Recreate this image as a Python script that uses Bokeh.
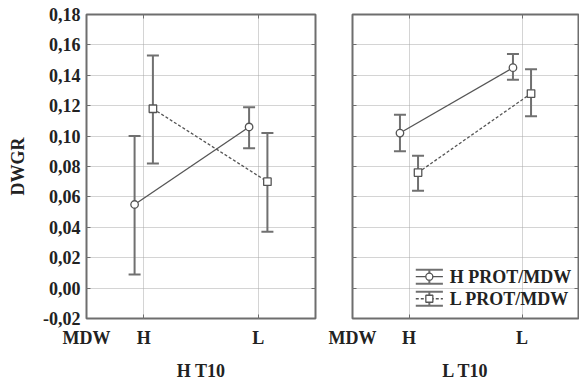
from bokeh.plotting import figure
from bokeh.models import (Range1d, FixedTicker, LinearAxis, Whisker, TeeHead,
                          ColumnDataSource)
from bokeh.layouts import row
from bokeh.embed import file_html
from bokeh.resources import INLINE
from bokeh.core.properties import value

# ---------------- data ----------------
categories = ["H", "L"]
cat_pos = [1, 2]
x_tick_positions = [0.5, 1, 2]
x_tick_labels = ["MDW", "H", "L"]
y_ticks = [-0.02, 0.0, 0.02, 0.04, 0.06, 0.08, 0.10, 0.12, 0.14, 0.16, 0.18]
y_tick_labels = ["-0,02", "0,00", "0,02", "0,04", "0,06", "0,08", "0,10",
                 "0,12", "0,14", "0,16", "0,18"]
panel_titles = ["H T10", "L T10"]
series_names = ["H PROT/MDW", "L PROT/MDW"]
y_title = "DWGR"

# panel "H T10"
ht10_hprot_mean = [0.055, 0.106]
ht10_hprot_low = [0.009, 0.092]
ht10_hprot_high = [0.100, 0.119]
ht10_lprot_mean = [0.118, 0.070]
ht10_lprot_low = [0.082, 0.037]
ht10_lprot_high = [0.153, 0.102]

# panel "L T10"
lt10_hprot_mean = [0.102, 0.145]
lt10_hprot_low = [0.090, 0.137]
lt10_hprot_high = [0.114, 0.154]
lt10_lprot_mean = [0.076, 0.128]
lt10_lprot_low = [0.064, 0.113]
lt10_lprot_high = [0.087, 0.144]

# ---------------- styles ----------------
FONT = "Liberation Serif"
TICK_SIZE = "18px"
LABEL_SIZE = "18px"
LEGEND_SIZE = "18px"
FRAME_COLOR = "#6e6e6e"
LINE_COLOR = "#555555"
ERR_COLOR = "#707070"
GRID_COLOR = "#a8a8a8"
TEXT_COLOR = "#222222"
OFFSETS = [-0.08, 0.08]
MARKERS = ["circle", "square"]
DASHES = ["solid", "3 2"]


def style_axis(ax, show_labels):
    ax.axis_line_color = None
    ax.major_tick_in = 4
    ax.major_tick_out = 0
    ax.minor_tick_line_color = None
    ax.major_tick_line_color = FRAME_COLOR
    ax.major_tick_line_width = 1
    ax.major_label_text_font = FONT
    ax.major_label_text_font_style = "bold"
    ax.major_label_text_color = TEXT_COLOR
    ax.major_label_text_font_size = TICK_SIZE
    if not show_labels:
        ax.major_label_overrides = {t: "" for t in ax.ticker.ticks}
        ax.major_label_standoff = 0


def make_panel(title, series, left_labels, legend, mb_left, fw, mb_right):
    p = figure(output_backend="svg", toolbar_location=None,
               frame_width=fw, frame_height=304,
               min_border_left=mb_left, min_border_right=mb_right,
               min_border_top=14, min_border_bottom=62,
               x_range=Range1d(0.5, 2.5), y_range=Range1d(-0.02, 0.18),
               x_axis_location=None, y_axis_location=None)
    p.background_fill_color = "white"
    p.border_fill_color = "white"
    p.outline_line_color = FRAME_COLOR
    p.outline_line_width = 2

    # axes
    xb = LinearAxis(ticker=FixedTicker(ticks=x_tick_positions),
                    major_label_overrides={t: l for t, l in zip(x_tick_positions, x_tick_labels)})
    style_axis(xb, True)
    xb.major_label_standoff = 9
    xb.axis_label = title
    xb.axis_label_text_font = FONT
    xb.axis_label_text_font_style = "bold"
    xb.axis_label_text_font_size = LABEL_SIZE
    xb.axis_label_text_color = TEXT_COLOR
    xb.axis_label_standoff = 10
    p.add_layout(xb, "below")

    xt = LinearAxis(ticker=FixedTicker(ticks=cat_pos))
    style_axis(xt, False)
    p.add_layout(xt, "above")

    if left_labels:
        yl = LinearAxis(ticker=FixedTicker(ticks=y_ticks),
                        major_label_overrides={t: l for t, l in zip(y_ticks, y_tick_labels)})
        style_axis(yl, True)
        yl.major_label_standoff = 6
        yl.axis_label = y_title
        yl.axis_label_text_font = FONT
        yl.axis_label_text_font_style = "bold"
        yl.axis_label_text_font_size = LABEL_SIZE
        yl.axis_label_text_color = TEXT_COLOR
        yl.axis_label_standoff = 12
    else:
        yl = LinearAxis(ticker=FixedTicker(ticks=y_ticks))
        style_axis(yl, False)
    p.add_layout(yl, "left")

    yr = LinearAxis(ticker=FixedTicker(ticks=y_ticks))
    style_axis(yr, False)
    p.add_layout(yr, "right")

    # grid
    p.xgrid.ticker = FixedTicker(ticks=cat_pos)
    p.ygrid.ticker = FixedTicker(ticks=y_ticks[1:-1])
    for g in (p.xgrid, p.ygrid):
        g.grid_line_color = GRID_COLOR
        g.grid_line_dash = "1 1"
        g.grid_line_width = 1

    # series
    for (mean, low, high), off, mk, dash in zip(series, OFFSETS, MARKERS, DASHES):
        xs = [c + off for c in cat_pos]
        src = ColumnDataSource(dict(x=xs, y=mean, lower=low, upper=high))
        w = Whisker(source=src, base="x", upper="upper", lower="lower",
                    dimension="height", line_color=ERR_COLOR, line_width=2,
                    level="underlay",
                    upper_head=TeeHead(size=12, line_color=ERR_COLOR, line_width=2),
                    lower_head=TeeHead(size=12, line_color=ERR_COLOR, line_width=2))
        p.add_layout(w)
        p.line("x", "y", source=src, line_color=LINE_COLOR, line_width=1.3,
               line_dash=dash)
        p.scatter("x", "y", source=src, marker=mk, size=7.5, fill_color="white",
                  line_color=LINE_COLOR, line_width=1.3)

    if legend:
        rows_y = [0.0075, -0.0070]
        ix0, ix1, tx, dy = 1.06, 1.30, 1.36, 0.0046
        cx = (ix0 + ix1) / 2
        for ry, name, mk, dash in zip(rows_y, series_names, MARKERS, DASHES):
            p.segment(x0=[ix0, ix0], y0=[ry + dy, ry - dy], x1=[ix1, ix1],
                      y1=[ry + dy, ry - dy], line_color=ERR_COLOR, line_width=2)
            p.segment(x0=[cx], y0=[ry - dy], x1=[cx], y1=[ry + dy],
                      line_color=ERR_COLOR, line_width=2)
            p.line(x=[ix0, ix1], y=[ry, ry], line_color=LINE_COLOR,
                   line_width=1.3, line_dash=dash)
            p.scatter(x=[cx], y=[ry], marker=mk, size=7, fill_color="white",
                      line_color=LINE_COLOR, line_width=1.3)
            p.text(x=[tx], y=[ry], text=[name], text_font=value(FONT),
                   text_font_style="bold", text_font_size=LEGEND_SIZE,
                   text_baseline="middle", text_align="left",
                   text_color=TEXT_COLOR)
    return p


left = make_panel(panel_titles[0],
                  [(ht10_hprot_mean, ht10_hprot_low, ht10_hprot_high),
                   (ht10_lprot_mean, ht10_lprot_low, ht10_lprot_high)],
                  True, False, 86, 229, 12)
right = make_panel(panel_titles[1],
                   [(lt10_hprot_mean, lt10_hprot_low, lt10_hprot_high),
                    (lt10_lprot_mean, lt10_lprot_low, lt10_lprot_high)],
                   False, True, 25, 226, 1)

layout = row(left, right)
open("out.html", "w").write(file_html(layout, INLINE))
